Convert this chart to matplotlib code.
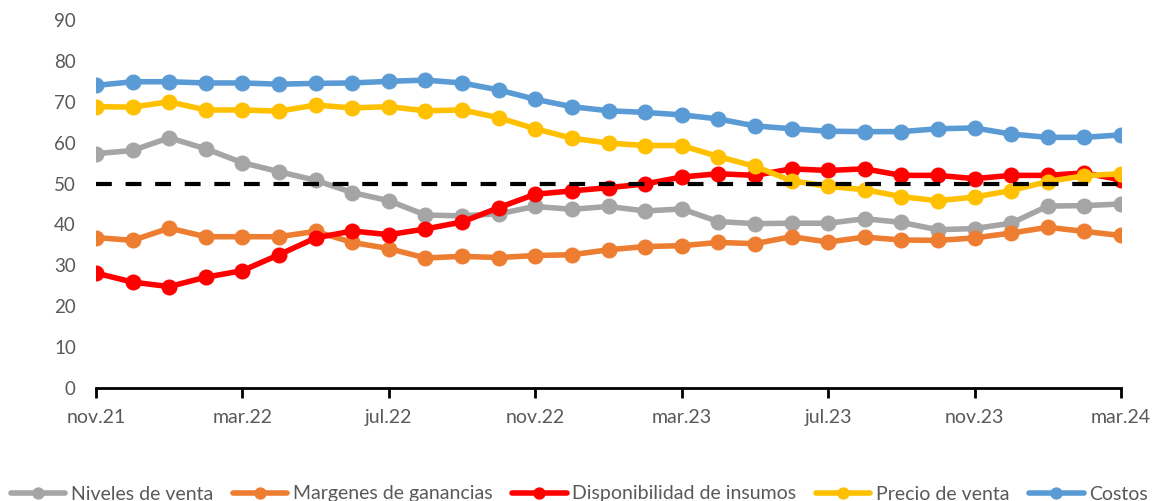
import matplotlib
matplotlib.use("Agg")
import matplotlib.pyplot as plt
from matplotlib.ticker import FixedLocator, NullLocator

# months nov.21 .. mar.24
meses = ["nov.21", "dic.21", "ene.22", "feb.22", "mar.22", "abr.22", "may.22", "jun.22",
         "jul.22", "ago.22", "sep.22", "oct.22", "nov.22", "dic.22", "ene.23", "feb.23",
         "mar.23", "abr.23", "may.23", "jun.23", "jul.23", "ago.23", "sep.23", "oct.23",
         "nov.23", "dic.23", "ene.24", "feb.24", "mar.24"]

niveles_venta = [57.3, 58.1, 61.2, 58.5, 55.1, 52.9, 50.8, 47.8, 45.8, 42.3, 42.1, 42.6, 44.4,
                 43.7, 44.4, 43.3, 43.8, 40.7, 40.2, 40.3, 40.3, 41.4, 40.5, 38.7, 39.0, 40.3,
                 44.5, 44.6, 45.0]
margenes = [36.8, 36.1, 39.1, 37.0, 37.0, 37.0, 38.3, 35.6, 34.1, 31.8, 32.2, 31.9, 32.4,
            32.6, 33.8, 34.6, 34.8, 35.6, 35.3, 37.0, 35.7, 36.9, 36.2, 36.1, 36.7, 37.9,
            39.3, 38.3, 37.3]
disponibilidad = [28.1, 25.9, 24.8, 27.1, 28.7, 32.6, 36.7, 38.4, 37.5, 38.9, 40.6, 44.1, 47.4,
                  48.2, 49.0, 49.9, 51.6, 52.4, 52.0, 53.6, 53.2, 53.6, 52.0, 52.0, 51.2, 52.0,
                  52.0, 52.6, 50.9]
precio_venta = [68.8, 68.7, 70.0, 68.0, 68.0, 67.7, 69.2, 68.5, 68.8, 67.8, 68.0, 66.1, 63.4,
                61.1, 59.9, 59.3, 59.3, 56.6, 54.2, 50.7, 49.3, 48.5, 46.8, 45.8, 46.7, 48.3,
                50.5, 51.9, 52.4]
costos = [74.0, 74.9, 74.9, 74.6, 74.6, 74.3, 74.5, 74.6, 75.0, 75.3, 74.6, 72.9, 70.6,
          68.8, 67.8, 67.4, 66.8, 65.8, 64.1, 63.4, 62.8, 62.7, 62.7, 63.4, 63.6, 62.1,
          61.3, 61.3, 61.9]
umbral = 50

series = [
    ("Niveles de venta", niveles_venta, "#A5A5A5"),
    ("Margenes de ganancias", margenes, "#ED7D31"),
    ("Disponibilidad de insumos", disponibilidad, "#FF0000"),
    ("Precio de venta", precio_venta, "#FFC000"),
    ("Costos", costos, "#5B9BD5"),
]

plt.rcParams['font.family'] = ['Lato', 'DejaVu Sans']

fig = plt.figure(figsize=(11.59, 5.01), dpi=100)
ax = fig.add_axes([96 / 1159, 113 / 501, (1121 - 96) / 1159, (388 - 20) / 501])

x = list(range(len(meses)))
for i, (nombre, vals, color) in enumerate(series):
    ax.plot(x, vals, color=color, lw=4, marker="o", ms=10.5, label=nombre,
            solid_capstyle="round", zorder=2 + i)

ax.plot(x, [umbral] * len(x), color="black", lw=3, ls=(0, (3.8, 3.3)), zorder=10)

ax.set_xlim(0, len(meses) - 1)
ax.set_ylim(0, 90)
ax.set_yticks(range(0, 91, 10))
ax.xaxis.set_major_locator(FixedLocator(x[::4]))
ax.set_xticklabels(meses[::4])
ax.xaxis.set_minor_locator(NullLocator())

for s in ["top", "right", "left"]:
    ax.spines[s].set_visible(False)
ax.spines["bottom"].set_linewidth(2)
ax.spines["bottom"].set_color("black")
ax.tick_params(axis="x", direction="out", length=7, width=2, colors="black",
               labelcolor="#595959", labelsize=14, pad=8)
ax.tick_params(axis="y", length=0, labelcolor="#595959", labelsize=13.5, pad=14.5)

leg = fig.legend(loc="center", bbox_to_anchor=(0.5, 1 - 494 / 501), ncol=5, frameon=False,
                 fontsize=14, handlelength=2.8, handletextpad=0.3, columnspacing=1.0,
                 markerscale=0.75, labelcolor="#595959")

fig.savefig("out.png", dpi=100)
